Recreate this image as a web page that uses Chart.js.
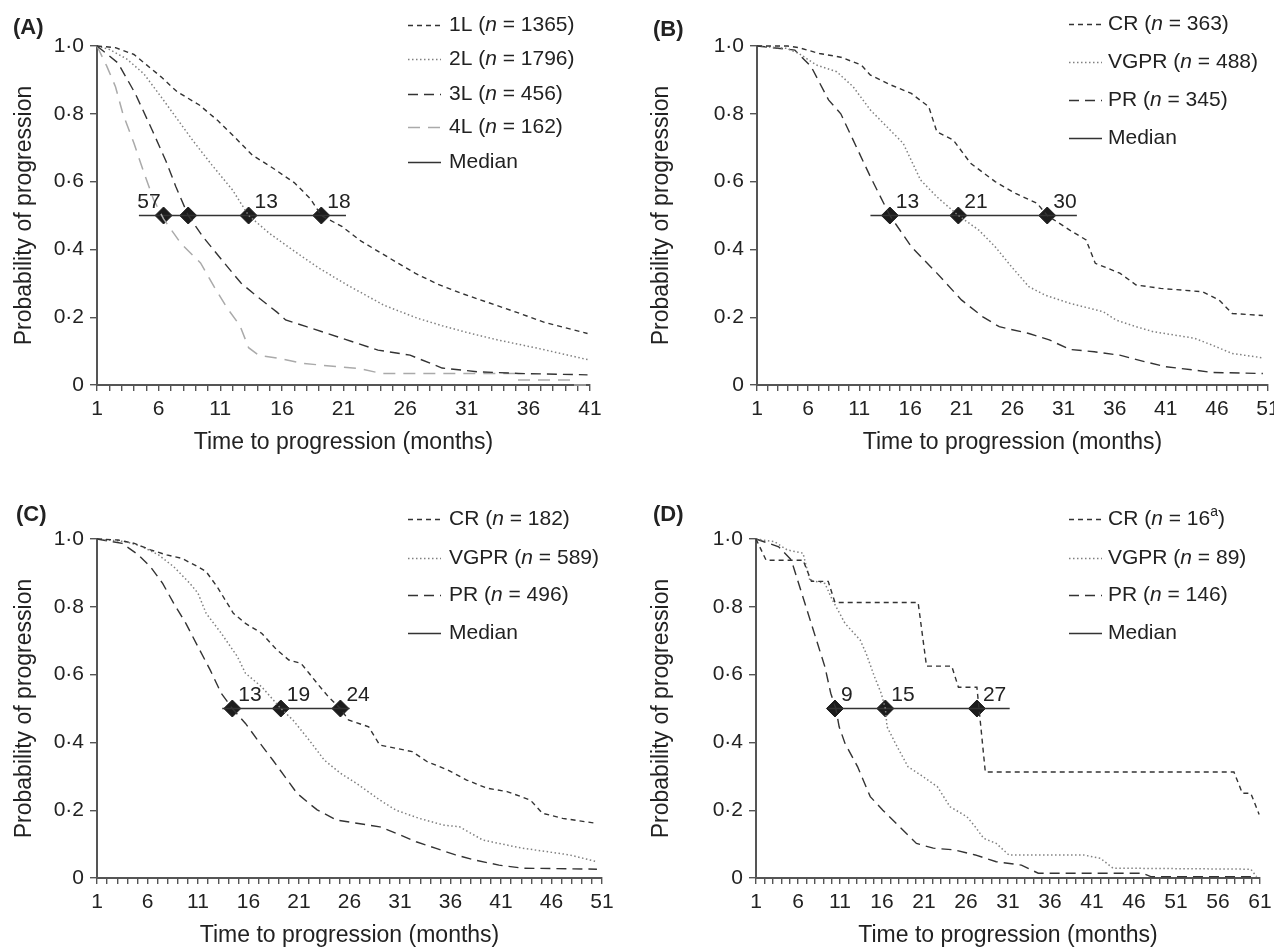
<!DOCTYPE html>
<html>
<head>
<meta charset="utf-8">
<script src="https://cdn.jsdelivr.net/npm/chart.js@4.4.1/dist/chart.umd.min.js"></script>
<style>
  html, body { margin: 0; padding: 0; background: #fff; overflow: hidden; }
  #wrap { position: relative; width: 1274px; height: 950px; overflow: hidden; background: #fff; }
  canvas { position: absolute; }
</style>
</head>
<body>
<div id="wrap">
  <canvas id="cA"></canvas>
  <canvas id="cB"></canvas>
  <canvas id="cC"></canvas>
  <canvas id="cD"></canvas>
</div>
<script>
// ---- Panel A: by line of therapy ----
const aTime1L = [1, 2.5, 4, 5, 6.2, 7.5, 9.3, 10.8, 12.2, 13.6, 15.1, 17, 18.3, 19.2, 20.9, 22.4, 24.7, 26.8, 28.6, 30.6, 32.6, 35, 37.3, 40.8];
const aProb1L = [1, 0.995, 0.975, 0.945, 0.909, 0.865, 0.826, 0.78, 0.73, 0.678, 0.644, 0.597, 0.55, 0.5, 0.467, 0.425, 0.375, 0.33, 0.298, 0.27, 0.245, 0.215, 0.185, 0.152];
const aTime2L = [1, 2, 3.4, 4.8, 6.2, 7.4, 8.8, 10.3, 12, 13.3, 15, 17, 19, 21.3, 24.3, 27, 29, 31, 33.5, 36.8, 40.8];
const aProb2L = [1, 0.99, 0.962, 0.918, 0.85, 0.79, 0.72, 0.65, 0.575, 0.5, 0.447, 0.395, 0.345, 0.295, 0.235, 0.197, 0.175, 0.155, 0.133, 0.108, 0.075];
const aTime3L = [1, 2.7, 4.1, 5.5, 6.6, 7.4, 8.4, 9.6, 11.1, 12.7, 14.2, 15.6, 16.3, 18, 20.7, 23.8, 26.4, 29, 31.9, 35.2, 40.8];
const aProb3L = [1, 0.95, 0.86, 0.75, 0.66, 0.585, 0.5, 0.437, 0.37, 0.3, 0.255, 0.215, 0.192, 0.172, 0.14, 0.103, 0.088, 0.05, 0.039, 0.034, 0.03];
const aTime4L = [1, 1.8, 2.5, 3.1, 4, 4.8, 5.6, 6.4, 7.8, 9.4, 10.5, 11.6, 12.6, 13.3, 14.1, 15.7, 17.7, 19.9, 22.2, 24.1, 35, 35.1, 39.4, 39.5, 40.8];
const aProb4L = [1, 0.94, 0.88, 0.8, 0.713, 0.627, 0.546, 0.49, 0.418, 0.36, 0.29, 0.225, 0.175, 0.11, 0.088, 0.079, 0.064, 0.056, 0.049, 0.034, 0.034, 0.015, 0.015, 0, 0];
const aNames = ['1L', '2L', '3L', '4L'];
const aCounts = ['1365', '1796', '456', '162'];
const aMedLine = [4.4, 21.2];
const aMedX = [6.4, 8.4, 13.3, 19.2];
const aMedLabels = ['57', '', '13', '18'];

// ---- Panel B ----
const bTimeCR = [1, 4, 5.1, 7.1, 9.2, 11.2, 12.1, 14.1, 16.1, 17.8, 18.6, 20.2, 21.9, 24.3, 26.3, 28.4, 29.4, 31.6, 33.2, 34.1, 36.5, 38.1, 40.5, 44.6, 46.2, 47.5, 50.5];
const bProbCR = [1, 1, 0.995, 0.978, 0.967, 0.944, 0.914, 0.885, 0.86, 0.821, 0.747, 0.723, 0.654, 0.6, 0.565, 0.536, 0.5, 0.457, 0.428, 0.359, 0.33, 0.295, 0.285, 0.275, 0.251, 0.211, 0.205];
const bTimeVGPR = [1, 3.9, 5.1, 6.8, 8.8, 10.4, 12.1, 13.7, 15.3, 17, 18.6, 20.7, 22.7, 24.3, 25.9, 27.6, 29.2, 31.6, 34.9, 36.1, 38.1, 39.8, 43.8, 45.5, 47.5, 50.5];
const bProbVGPR = [1, 0.993, 0.978, 0.944, 0.924, 0.88, 0.811, 0.762, 0.713, 0.605, 0.555, 0.5, 0.457, 0.408, 0.349, 0.29, 0.265, 0.241, 0.216, 0.192, 0.172, 0.157, 0.138, 0.118, 0.093, 0.08];
const bTimePR = [1, 4.7, 6.3, 8, 9.2, 10.4, 12.1, 14, 16.1, 18.6, 21, 23.1, 24.7, 27.6, 29.6, 31.6, 34, 36.5, 38.9, 41, 43.8, 45.5, 50.5];
const bProbPR = [1, 0.988, 0.939, 0.841, 0.8, 0.723, 0.614, 0.5, 0.408, 0.33, 0.251, 0.201, 0.172, 0.152, 0.133, 0.105, 0.098, 0.088, 0.069, 0.054, 0.044, 0.037, 0.034];
const bCounts = ['363', '488', '345'];
const bMedLine = [12.1, 32.3];
const bMedX = [14.0, 20.7, 29.4];
const bMedLabels = ['13', '21', '30'];

// ---- Panel C ----
const cTimeCR = [1, 3.1, 4.7, 6.3, 7.9, 9.4, 11, 11.8, 12.9, 14.5, 15.7, 17.3, 18.8, 20, 21.2, 22, 22.8, 23.9, 25.1, 25.9, 27.9, 29, 32.2, 33.7, 35.7, 37.6, 39.6, 41.6, 43.9, 45.1, 47.1, 50.5];
const cProbCR = [1, 0.997, 0.987, 0.968, 0.953, 0.943, 0.918, 0.904, 0.859, 0.781, 0.751, 0.722, 0.673, 0.643, 0.633, 0.604, 0.574, 0.535, 0.5, 0.466, 0.446, 0.392, 0.373, 0.343, 0.319, 0.289, 0.265, 0.255, 0.23, 0.191, 0.176, 0.161];
const cTimeVGPR = [1, 3.9, 5.5, 7.1, 8.6, 10.2, 11, 11.8, 13.3, 14.9, 15.7, 17.3, 19.2, 20.4, 22, 23.5, 25.1, 26.7, 29, 30.6, 32.9, 35.3, 36.9, 39.2, 40.8, 43.1, 45.5, 47.8, 50.5];
const cProbVGPR = [1, 0.992, 0.977, 0.953, 0.918, 0.869, 0.84, 0.781, 0.722, 0.653, 0.604, 0.564, 0.5, 0.466, 0.407, 0.348, 0.309, 0.279, 0.23, 0.2, 0.176, 0.156, 0.151, 0.112, 0.102, 0.088, 0.078, 0.068, 0.048];
const cTimePR = [1, 3.5, 5.1, 6.3, 7.5, 8.6, 9.8, 11, 12.2, 13.3, 14.4, 15.7, 16.9, 18.4, 19.6, 20.8, 22, 22.8, 24.7, 29, 30.6, 32.6, 34.5, 36.5, 38.4, 40.8, 43.1, 50.5];
const cProbPR = [1, 0.987, 0.953, 0.918, 0.869, 0.81, 0.751, 0.682, 0.614, 0.545, 0.5, 0.456, 0.407, 0.348, 0.299, 0.25, 0.22, 0.201, 0.171, 0.151, 0.132, 0.107, 0.088, 0.068, 0.053, 0.038, 0.029, 0.026];
const cCounts = ['182', '589', '496'];
const cMedLine = [13.4, 26.0];
const cMedX = [14.4, 19.2, 25.1];
const cMedLabels = ['13', '19', '24'];

// ---- Panel D ----
const dTimeCR = [1, 2.2, 6.6, 7.6, 9.6, 10.4, 20.3, 21.3, 24.3, 25.1, 27.3, 28.3, 57.9, 58.9, 59.9, 60.9];
const dProbCR = [1, 0.9375, 0.9375, 0.875, 0.875, 0.8125, 0.8125, 0.625, 0.625, 0.5625, 0.5625, 0.3125, 0.3125, 0.25, 0.25, 0.1875];
const dTimeVGPR = [1, 3.2, 4.7, 6.6, 7.4, 9.2, 10.1, 11.6, 13.4, 14.1, 15.1, 15.9, 16.4, 16.6, 17.6, 19.1, 20.6, 22.6, 24.1, 26.1, 27.1, 28.1, 29.6, 31.1, 40, 42, 43.5, 59.9, 60.6];
const dProbVGPR = [1, 0.992, 0.968, 0.958, 0.879, 0.869, 0.82, 0.751, 0.702, 0.663, 0.594, 0.545, 0.5, 0.446, 0.397, 0.328, 0.304, 0.269, 0.21, 0.181, 0.151, 0.117, 0.102, 0.068, 0.068, 0.058, 0.029, 0.026, 0.004];
const dTimePR = [1, 3.7, 5.2, 6.2, 7.7, 9.2, 9.9, 10.5, 10.9, 11.6, 13.1, 14.6, 16.1, 18.1, 20.1, 22.1, 24.6, 27.1, 29.6, 32.6, 34.6, 47, 48, 60.5];
const dProbPR = [1, 0.977, 0.938, 0.859, 0.741, 0.623, 0.545, 0.5, 0.446, 0.397, 0.328, 0.24, 0.2, 0.151, 0.102, 0.088, 0.083, 0.068, 0.048, 0.038, 0.014, 0.014, 0.004, 0.004];
const dCounts = ['16', '89', '146'];
const dMedLine = [9.6, 31.2];
const dMedX = [10.4, 16.4, 27.3];
const dMedLabels = ['9', '15', '27'];

const respNames = ['CR', 'VGPR', 'PR'];
const yTicks = [0, 0.2, 0.4, 0.6, 0.8, 1];

// ---- styling ----
const FAMILY = '"Liberation Sans", Arial, Helvetica, sans-serif';
const TICK_SIZE = 21;
const INK = '#222';
const AXIS = '#555';
const lineStyles = [
  { color: '#333', dash: [5, 4], width: 1.4 },
  { color: '#808080', dash: [1.5, 2.5], width: 1.5 },
  { color: '#333', dash: [10, 6], width: 1.4 },
  { color: '#aaa', dash: [12, 8], width: 1.5 }
];

function pts(ts, ps) {
  return ts.map((t, i) => ({ x: t, y: ps[i] }));
}

// layout of each panel (canvas origin + plot-area edges in canvas pixels)
const panels = [
  { id: 'cA', x: 0, y: 0, letter: '(A)', xMax: 41, plot: { l: 97, r: 590, t: 46, b: 385 },
    series: [pts(aTime1L, aProb1L), pts(aTime2L, aProb2L), pts(aTime3L, aProb3L), pts(aTime4L, aProb4L)],
    names: aNames, counts: aCounts, med: aMedLine, medX: aMedX, medLabels: aMedLabels,
    leg: { x: 408, ys: [25, 59, 94, 127, 162], gap: 8 }, letterPos: [13, 28] },
  { id: 'cB', x: 637, y: 0, letter: '(B)', xMax: 51, plot: { l: 120, r: 631, t: 46, b: 385 },
    series: [pts(bTimeCR, bProbCR), pts(bTimeVGPR, bProbVGPR), pts(bTimePR, bProbPR)],
    names: respNames, counts: bCounts, med: bMedLine, medX: bMedX, medLabels: bMedLabels,
    leg: { x: 432, ys: [24, 62, 100, 138], gap: 6 }, letterPos: [16, 30] },
  { id: 'cC', x: 0, y: 475, letter: '(C)', xMax: 51, plot: { l: 97, r: 602, t: 64, b: 403 },
    series: [pts(cTimeCR, cProbCR), pts(cTimeVGPR, cProbVGPR), pts(cTimePR, cProbPR)],
    names: respNames, counts: cCounts, med: cMedLine, medX: cMedX, medLabels: cMedLabels,
    leg: { x: 408, ys: [44, 83, 120, 158], gap: 8 }, letterPos: [16, 40] },
  { id: 'cD', x: 637, y: 475, letter: '(D)', xMax: 61, plot: { l: 119, r: 623, t: 64, b: 403 },
    series: [pts(dTimeCR, dProbCR), pts(dTimeVGPR, dProbVGPR), pts(dTimePR, dProbPR)],
    names: respNames, counts: dCounts, med: dMedLine, medX: dMedX, medLabels: dMedLabels,
    leg: { x: 432, ys: [44, 83, 120, 158], gap: 6 }, letterPos: [16, 40], supFirst: 'a' }
];

const CW = 680;
const XAXIS_H = 115;

function drawRich(ctx, x, y, parts) {
  parts.forEach(([txt, kind]) => {
    if (kind === 'i') ctx.font = 'italic ' + TICK_SIZE + 'px ' + FAMILY;
    else if (kind === 'sup') ctx.font = '14px ' + FAMILY;
    else ctx.font = TICK_SIZE + 'px ' + FAMILY;
    ctx.fillText(txt, x, kind === 'sup' ? y - 7 : y);
    x += ctx.measureText(txt).width;
  });
}

function drawOverlay(chart, p) {
  const ctx = chart.ctx;
  const xs = chart.scales.x, ys = chart.scales.y;
  ctx.save();
  ctx.fillStyle = INK;

  // panel letter
  ctx.font = 'bold 22px ' + FAMILY;
  ctx.textBaseline = 'middle';
  ctx.textAlign = 'left';
  ctx.fillText(p.letter, p.letterPos[0], p.letterPos[1]);

  // median labels
  ctx.font = TICK_SIZE + 'px ' + FAMILY;
  ctx.textBaseline = 'alphabetic';
  const py = ys.getPixelForValue(0.5);
  p.medLabels.forEach((lab, i) => {
    if (!lab) return;
    const px = xs.getPixelForValue(p.medX[i]);
    if (i === 0 && p.medLabels[1] === '') {
      ctx.textAlign = 'right';
      ctx.fillText(lab, px - 3, py - 8);
    } else {
      ctx.textAlign = 'left';
      ctx.fillText(lab, px + 6, py - 8);
    }
  });

  // legend
  ctx.textAlign = 'left';
  ctx.textBaseline = 'middle';
  const rows = p.names.length + 1;
  for (let i = 0; i < rows; i++) {
    const y = p.leg.ys[i];
    const isMed = i === p.names.length;
    const st = isMed ? { color: '#333', dash: [], width: 1.5 } : lineStyles[i];
    ctx.beginPath();
    ctx.setLineDash(st.dash);
    ctx.strokeStyle = st.color;
    ctx.lineWidth = st.width;
    ctx.moveTo(p.leg.x, y + 0.5);
    ctx.lineTo(p.leg.x + 33, y + 0.5);
    ctx.stroke();
    ctx.setLineDash([]);
    const tx = p.leg.x + 33 + p.leg.gap;
    if (isMed) {
      drawRich(ctx, tx, y, [['Median', '']]);
    } else {
      const parts = [[p.names[i] + ' (', ''], ['n', 'i'], [' = ' + p.counts[i], '']];
      if (i === 0 && p.supFirst) parts.push([p.supFirst, 'sup']);
      parts.push([')', '']);
      drawRich(ctx, tx, y, parts);
    }
  }
  ctx.restore();
}

function makePanel(p) {
  const el = document.getElementById(p.id);
  const H = p.plot.b + XAXIS_H;
  el.width = CW;
  el.height = H;
  el.style.left = p.x + 'px';
  el.style.top = p.y + 'px';

  const datasets = p.series.map((data, i) => ({
    label: p.names[i],
    data: data,
    showLine: true,
    borderColor: lineStyles[i].color,
    borderDash: lineStyles[i].dash,
    borderWidth: lineStyles[i].width,
    pointRadius: 0,
    tension: 0,
    fill: false,
    clip: 4
  }));
  datasets.push({
    label: 'Median',
    data: [{ x: p.med[0], y: 0.5 }, { x: p.med[1], y: 0.5 }],
    showLine: true, borderColor: '#333', borderWidth: 1.6, pointRadius: 0, clip: false
  });
  datasets.push({
    label: 'median marks',
    data: p.medX.map(v => ({ x: v, y: 0.5 })),
    showLine: false, pointStyle: 'rectRot', pointRadius: 8.5,
    backgroundColor: '#1c1c1c', borderColor: '#1c1c1c', borderWidth: 1, clip: false
  });

  const tickFont = { family: FAMILY, size: TICK_SIZE };
  const titleFont = { family: FAMILY, size: 23 };

  new Chart(el, {
    type: 'scatter',
    data: { datasets },
    options: {
      responsive: false,
      animation: false,
      events: [],
      layout: { padding: { top: p.plot.t, right: CW - p.plot.r, bottom: 0, left: 0 } },
      plugins: { legend: { display: false }, tooltip: { enabled: false } },
      scales: {
        x: {
          type: 'linear', min: 1, max: p.xMax,
          ticks: {
            stepSize: 1, autoSkip: false, maxRotation: 0, padding: 6, color: INK, font: tickFont,
            callback: v => ((Math.round(v) - 1) % 5 === 0 ? String(Math.round(v)) : '')
          },
          grid: { drawOnChartArea: false, drawTicks: true, tickLength: 6, color: AXIS, lineWidth: 1.4 },
          border: { display: true, color: AXIS, width: 2 },
          title: { display: true, text: 'Time to progression (months)', color: INK, font: titleFont,
                   padding: { top: 0, bottom: 44 } },
          afterFit: s => { s.height = XAXIS_H; }
        },
        y: {
          type: 'linear', min: 0, max: 1,
          afterBuildTicks: s => { s.ticks = yTicks.map(v => ({ value: v })); },
          ticks: {
            padding: 6, color: INK, font: tickFont,
            callback: v => (v === 0 ? '0' : v.toFixed(1).replace('.', '\u00b7'))
          },
          grid: { drawOnChartArea: false, drawTicks: true, tickLength: 7, color: AXIS, lineWidth: 1.4 },
          border: { display: true, color: AXIS, width: 2 },
          title: { display: true, text: 'Probability of progression', color: INK, font: titleFont,
                   padding: { top: 11, bottom: 0 } },
          afterFit: s => { s.width = p.plot.l; }
        }
      }
    },
    plugins: [{ id: 'overlay', afterDraw: chart => drawOverlay(chart, p) }]
  });
}

panels.forEach(makePanel);
</script>
</body>
</html>
